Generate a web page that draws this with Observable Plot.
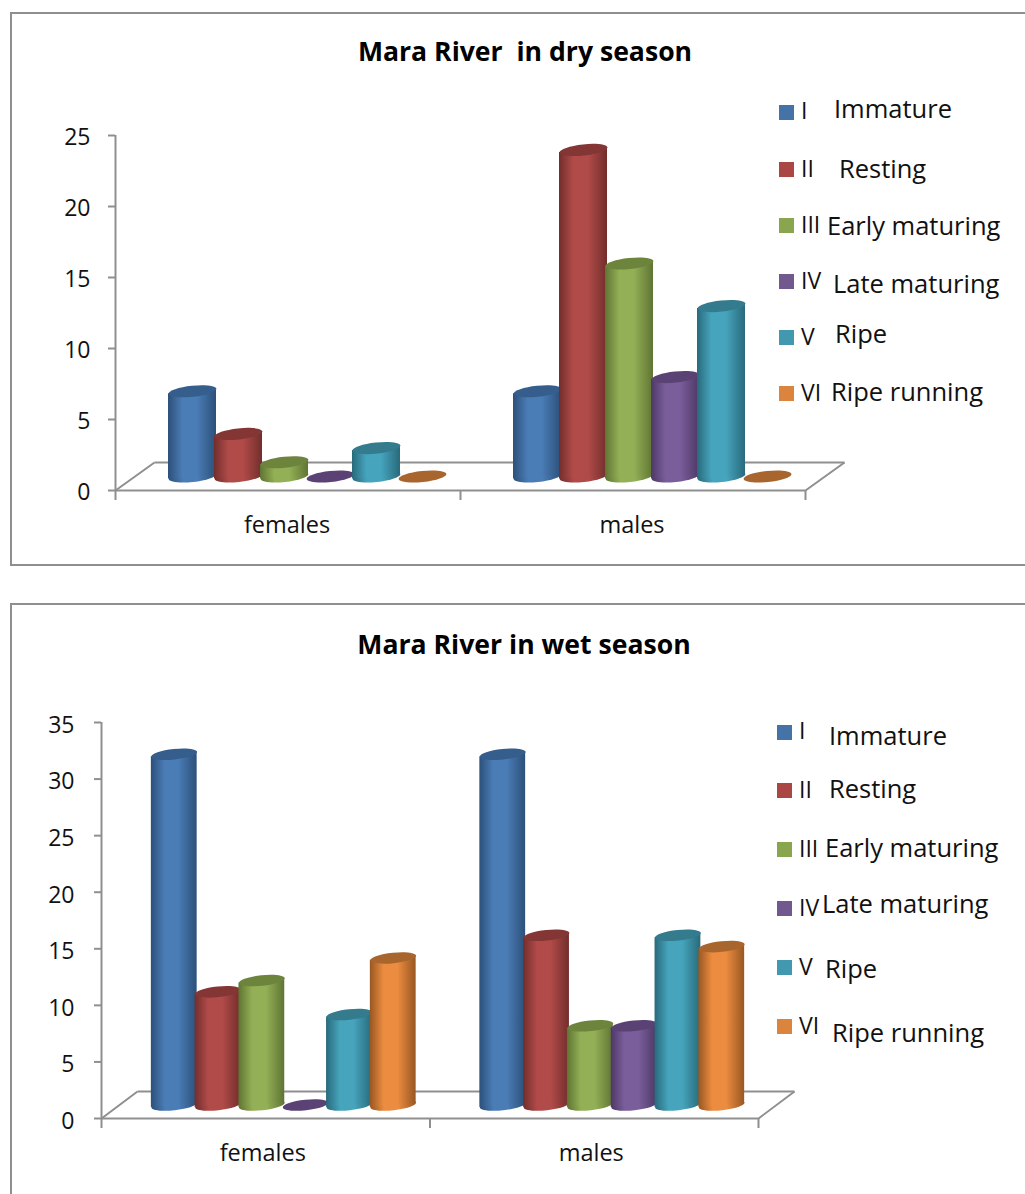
<!DOCTYPE html>
<html>
<head>
<meta charset="utf-8">
<script src="https://cdn.jsdelivr.net/npm/d3@7"></script>
<script src="https://cdn.jsdelivr.net/npm/@observablehq/plot@0.6"></script>
<style>
  html, body { margin: 0; padding: 0; background: #fff; }
  #page { position: relative; width: 1025px; height: 1194px; overflow: hidden; font-family: "Open Sans", sans-serif; }
  .panel { position: absolute; box-sizing: border-box; border: 2px solid #8f8f8f; }
  #page svg { position: absolute; left: 0; overflow: visible; background: none; }
</style>
</head>
<body>
<div id="page"></div>
<script>
// Gonad maturity stages of fish sampled in the Mara River, percent by sex.
const sexes = ["females", "males"];
const stages = ["I", "II", "III", "IV", "V", "VI"];
const stageNames = ["Immature", "Resting", "Early maturing", "Late maturing", "Ripe", "Ripe running"];
const dryFemales = [6, 3, 1, 0, 2, 0];
const dryMales = [6, 23, 15, 7, 12, 0];
const wetFemales = [31, 10, 11, 0, 8, 13];
const wetMales = [31, 15, 7, 7, 15, 14];

// Shading per stage: swatch, cylinder cap, side edge, side highlight.
const swatchColors = ["#4572a7", "#aa4643", "#89a54e", "#71588f", "#4198af", "#db843d"];
const capColors = ["#355e8c", "#843634", "#6c843c", "#5a4274", "#337b8d", "#a9652e"];
const edgeColors = ["#2c5079", "#722e2c", "#5f7433", "#4e3866", "#286a7b", "#985722"];
const lightColors = ["#4a7cb6", "#b14b49", "#93b056", "#7a5e9b", "#46a4bd", "#ec8c40"];

const axisGrey = "#8f8f8f";
const fontStack = '"Open Sans", sans-serif';
const tilt = 6; // degrees the cylinder ends lean

// Cylinder end: an ellipse as a Plot symbol, its semi-major axis equal to the dot radius.
const ellipseSymbol = {
  draw(ctx, size) {
    const a = Math.sqrt(size / Math.PI), b = a * 0.23, k = 0.5523;
    ctx.moveTo(-a, 0);
    ctx.bezierCurveTo(-a, -b * k, -a * k, -b, 0, -b);
    ctx.bezierCurveTo(a * k, -b, a, -b * k, a, 0);
    ctx.bezierCurveTo(a, b * k, a * k, b, 0, b);
    ctx.bezierCurveTo(-a * k, b, -a, b * k, -a, 0);
    ctx.closePath();
  }
};

// Builds one panel: cylinders, floor, axes, title and hand-placed legend.
function drawPanel(cfg) {
  const rows = sexes.flatMap((sex, g) =>
    stages.map((stage, i) => ({
      sex, g, i, stage,
      value: cfg.series[g][i],
      x1: g + (0.75 + i) / 7.5,
      x2: g + (1.75 + i) / 7.5,
      xc: g + (1.25 + i) / 7.5
    }))
  );

  const pxPerGroup = (1025 - cfg.margin.left - cfg.margin.right) / 2;
  const pxPerUnit = (cfg.height - cfg.margin.top - cfg.margin.bottom) / cfg.yMax;
  const depthX = cfg.depth[0] / pxPerGroup;
  const depthY = cfg.depth[1] / pxPerUnit;
  const shift = { dx: cfg.depth[0] / 2, dy: -cfg.depth[1] / 2 };

  const lineStyle = { stroke: axisGrey, strokeWidth: 2 };
  const floor = [
    Plot.link([0], { x1: depthX, y1: depthY, x2: 2 + depthX, y2: depthY, ...lineStyle }),
    Plot.link([0], { x1: 0, y1: 0, x2: depthX, y2: depthY, ...lineStyle }),
    Plot.link([0], { x1: 2, y1: 0, x2: 2 + depthX, y2: depthY, ...lineStyle })
  ];

  // Drawn stage by stage so each cylinder sits in front of its left neighbour.
  const cylinders = stages.flatMap((stage, i) => {
    const data = rows.filter(d => d.i === i);
    const tall = data.filter(d => d.value > 0);
    const end = { x: "xc", symbol: ellipseSymbol, r: cfg.radius, rotate: -tilt, ...shift };
    return [
      Plot.dot(tall, { ...end, y: 0, fill: `url(#${cfg.id}-side-${i})` }),
      Plot.rect(tall, {
        x1: "x1", x2: "x2", y1: 0, y2: "value",
        insetLeft: cfg.inset, insetRight: cfg.inset,
        fill: `url(#${cfg.id}-side-${i})`, ...shift
      }),
      Plot.dot(data, { ...end, y: "value", fill: capColors[i] })
    ];
  });

  const yTicks = d3.range(0, cfg.yMax + 1, 5);
  const svg = Plot.plot({
    width: 1025,
    height: cfg.height,
    marginLeft: cfg.margin.left,
    marginRight: cfg.margin.right,
    marginTop: cfg.margin.top,
    marginBottom: cfg.margin.bottom,
    style: { fontFamily: fontStack, background: "none", overflow: "visible" },
    x: { domain: [0, 2] },
    y: { domain: [0, cfg.yMax] },
    marks: [
      ...floor,
      Plot.ruleX([0], { y1: 0, y2: cfg.yMax, ...lineStyle }),
      Plot.ruleY([0], { x1: 0, x2: 2, ...lineStyle }),
      // Tick strokes and tick numbers are separate so the numbers can sit a little lower.
      Plot.axisY({
        ticks: yTicks, tickSize: 7, tickFormat: () => "",
        stroke: axisGrey, strokeWidth: 2, label: null
      }),
      Plot.axisY({
        ticks: yTicks, tickSize: 0, tickPadding: 7 + cfg.tickPadding, dy: cfg.tickDrop,
        stroke: "none", fill: "#111", fontSize: 23, label: null
      }),
      Plot.axisX({
        ticks: [0, 1, 2], tickSize: 10, tickFormat: () => "",
        stroke: axisGrey, strokeWidth: 2, label: null
      }),
      ...cylinders,
      Plot.text(sexes.map((s, g) => ({ s, x: g + 0.5 })), {
        x: "x", y: 0, text: "s", dx: cfg.labelShift, dy: 35, fontSize: 23.5, fill: "#111"
      })
    ]
  });
  svg.style.top = cfg.top + "px";

  // Side shading of the cylinders.
  const root = d3.select(svg);
  const defs = root.insert("defs", ":first-child");
  stages.forEach((stage, i) => {
    const g = defs.append("linearGradient")
      .attr("id", `${cfg.id}-side-${i}`).attr("x1", 0).attr("x2", 1).attr("y1", 0).attr("y2", 0);
    [[0, edgeColors[i]], [0.3, lightColors[i]], [0.6, lightColors[i]], [1, edgeColors[i]]]
      .forEach(([o, c]) => g.append("stop").attr("offset", o).attr("stop-color", c));
  });

  // Lean the cylinder sides to follow their ellipses.
  root.selectAll('g[aria-label="rect"] rect').each(function () {
    const r = d3.select(this);
    const cx = +r.attr("x") + r.attr("width") / 2;
    r.attr("transform", `translate(${cx} 0) skewY(${-tilt}) translate(${-cx} 0)`);
  });

  // Title and legend.
  const overlay = root.append("g").attr("font-family", fontStack).attr("text-anchor", "start");
  overlay.append("text")
    .attr("x", cfg.title.x).attr("y", cfg.title.y - cfg.top)
    .attr("text-anchor", "middle").attr("font-size", 26.6).attr("font-weight", 700).attr("fill", "#000")
    .style("white-space", "pre").text(cfg.title.text);
  cfg.legend.forEach((row, i) => {
    overlay.append("rect")
      .attr("x", cfg.swatchX).attr("y", row[0] - cfg.top).attr("width", 15).attr("height", 15)
      .attr("fill", swatchColors[i]);
    overlay.append("text")
      .attr("x", cfg.swatchX + 22).attr("y", row[1] - cfg.top)
      .attr("font-size", 23).attr("fill", "#111").text(stages[i]);
    overlay.append("text")
      .attr("x", row[2]).attr("y", row[3] - cfg.top)
      .attr("font-size", 25.5).attr("fill", "#111").text(stageNames[i]);
  });

  return svg;
}

const page = document.getElementById("page");

// Panel borders run off the right edge; the lower one also off the bottom.
[[10, 12, 1100, 554], [10, 603, 1100, 700]].forEach(([l, t, w, h]) => {
  const box = document.createElement("div");
  box.className = "panel";
  box.style.cssText = `left:${l}px;top:${t}px;width:${w}px;height:${h}px`;
  page.appendChild(box);
});

page.appendChild(drawPanel({
  id: "dry", top: 0, height: 570, yMax: 25,
  series: [dryFemales, dryMales],
  margin: { top: 135, right: 220, bottom: 80, left: 115 },
  depth: [39, 28], radius: 24, inset: -1, tickPadding: 18, tickDrop: 2, labelShift: -1,
  title: { text: "Mara River  in dry season", x: 525, y: 61 },
  swatchX: 779,
  // swatch top, numeral baseline, name x, name baseline
  legend: [[105, 119, 834, 118], [162, 177, 839, 178], [218, 233, 827, 235],
           [274, 289, 833, 293], [330, 345, 835, 343], [386, 401, 831, 401]]
}));

page.appendChild(drawPanel({
  id: "wet", top: 600, height: 594, yMax: 35,
  series: [wetFemales, wetMales],
  margin: { top: 122, right: 267, bottom: 76, left: 101 },
  depth: [36, 27], radius: 23, inset: -1, tickPadding: 20, tickDrop: 3, labelShift: -3,
  title: { text: "Mara River in wet season", x: 524, y: 654 },
  swatchX: 777,
  legend: [[725, 739, 829, 745], [783, 798, 829, 798], [842, 857, 825, 857],
           [901, 916, 822, 913], [960, 975, 825, 978], [1019, 1034, 832, 1042]]
}));
</script>
</body>
</html>
